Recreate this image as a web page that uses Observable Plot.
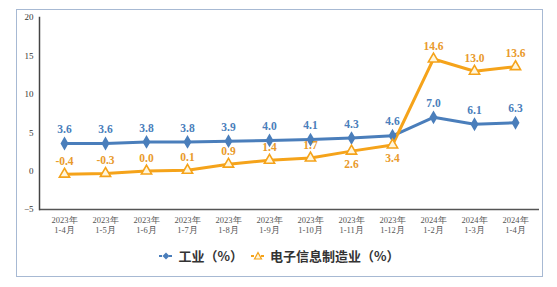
<!DOCTYPE html>
<html>
<head>
<meta charset="utf-8">
<script src="https://cdn.jsdelivr.net/npm/d3@7"></script>
<script src="https://cdn.jsdelivr.net/npm/@observablehq/plot@0.6"></script>
<style>
  html, body { margin: 0; padding: 0; background: #fff; }
  #box {
    position: absolute; left: 16px; top: 9px; width: 525px; height: 266px;
    border: 1.5px solid #a7b9d3; background: #fff;
  }
  #chart { position: absolute; left: 0; top: 0; }
  #chart svg text { font-family: "Liberation Serif", "Times New Roman", serif; }
  #legend {
    position: absolute; left: 0; top: 236px; width: 100%;
    display: flex; justify-content: center; align-items: center; gap: 8px;
    font-family: "Noto Sans CJK SC", sans-serif; font-size: 13px; font-weight: bold; color: #333;
  }
  .item { display: flex; align-items: center; gap: 5px; }
</style>
</head>
<body>
<div id="box">
  <div id="chart"></div>
  <div id="legend"></div>
</div>
<script>
const years = ["2023年","2023年","2023年","2023年","2023年","2023年","2023年","2023年","2023年","2024年","2024年","2024年"];
const periods = ["1-4月","1-5月","1-6月","1-7月","1-8月","1-9月","1-10月","1-11月","1-12月","1-2月","1-3月","1-4月"];
const industry = [3.6, 3.6, 3.8, 3.8, 3.9, 4.0, 4.1, 4.3, 4.6, 7.0, 6.1, 6.3];
const electronics = [-0.4, -0.3, 0.0, 0.1, 0.9, 1.4, 1.7, 2.6, 3.4, 14.6, 13.0, 13.6];
const yTicks = [-5, 0, 5, 10, 15, 20];
const seriesNames = ["工业（%）", "电子信息制造业（%）"];

const blue = "#4a7ebb";
const orange = "#f5a31a";
const orangeText = "#e99a2c";
const serif = "'Liberation Serif', 'Times New Roman', serif";

const categories = years.map((y, i) => y + "\n" + periods[i]);
const rows = categories.map((c, i) => ({cat: c, ind: industry[i], ele: electronics[i], i}));
const eleBelow = rows.filter(d => d.i === 7 || d.i === 8);
const eleAbove = rows.filter(d => !(d.i === 7 || d.i === 8));

const chart = Plot.plot({
  width: 525, height: 225,
  marginLeft: 22, marginRight: 3, marginTop: 7, marginBottom: 26,
  style: {fontFamily: serif, fontSize: "9px", color: "#333", background: "transparent"},
  x: {type: "point", domain: categories, padding: 0.5, label: null},
  y: {domain: [-5, 20], label: null},
  marks: [
    Plot.axisY({ticks: yTicks, tickSize: 0, tickPadding: 6, fontSize: 9, fill: "#333", fontFamily: serif}),
    Plot.axisX({tickSize: 0, tickPadding: 6, fontSize: 8.5, lineHeight: 1.2, fill: "#555", fontFamily: serif}),
    Plot.ruleY([-5], {stroke: "#555", strokeWidth: 1.5}),
    Plot.frame({anchor: "left", stroke: "#444", strokeWidth: 1.5}),
    Plot.line(rows, {x: "cat", y: "ind", stroke: blue, strokeWidth: 3}),
    Plot.line(rows, {x: "cat", y: "ele", stroke: orange, strokeWidth: 3}),
    Plot.dot(rows, {x: "cat", y: "ind", symbol: "diamond", fill: blue, r: 4.2}),
    Plot.dot(rows, {x: "cat", y: "ele", symbol: "triangle", fill: "#fff6dc", stroke: orange, strokeWidth: 1.6, r: 3.8}),
    Plot.text(rows, {x: "cat", y: "ind", text: d => d.ind.toFixed(1), dy: -14, fill: blue, fontSize: 11.5, fontWeight: "bold", fontFamily: serif}),
    Plot.text(eleAbove, {x: "cat", y: "ele", text: d => d.ele.toFixed(1), dy: -13, fill: orangeText, fontSize: 11.5, fontWeight: "bold", fontFamily: serif}),
    Plot.text(eleBelow, {x: "cat", y: "ele", text: d => d.ele.toFixed(1), dy: 13, fill: orangeText, fontSize: 11.5, fontWeight: "bold", fontFamily: serif})
  ]
});
document.getElementById("chart").appendChild(chart);

function swatch(color, kind) {
  const s = d3.create("svg").attr("width", 14).attr("height", 10);
  s.append("line").attr("x1", 0).attr("x2", 14).attr("y1", 5).attr("y2", 5)
    .attr("stroke", color).attr("stroke-width", 2).attr("stroke-dasharray", "3,2");
  if (kind === "diamond") {
    s.append("path").attr("d", "M7,1.5L10.5,5L7,8.5L3.5,5Z").attr("fill", color);
  } else {
    s.append("path").attr("d", "M7,1.5L10.5,8L3.5,8Z").attr("fill", "#fff6dc").attr("stroke", color).attr("stroke-width", 1.2);
  }
  return s.node();
}
const legend = d3.select("#legend");
[[blue, "diamond"], [orange, "triangle"]].forEach(([c, k], i) => {
  const it = legend.append("div").attr("class", "item");
  it.node().appendChild(swatch(c, k));
  it.append("span").text(seriesNames[i]);
});
</script>
</body>
</html>
